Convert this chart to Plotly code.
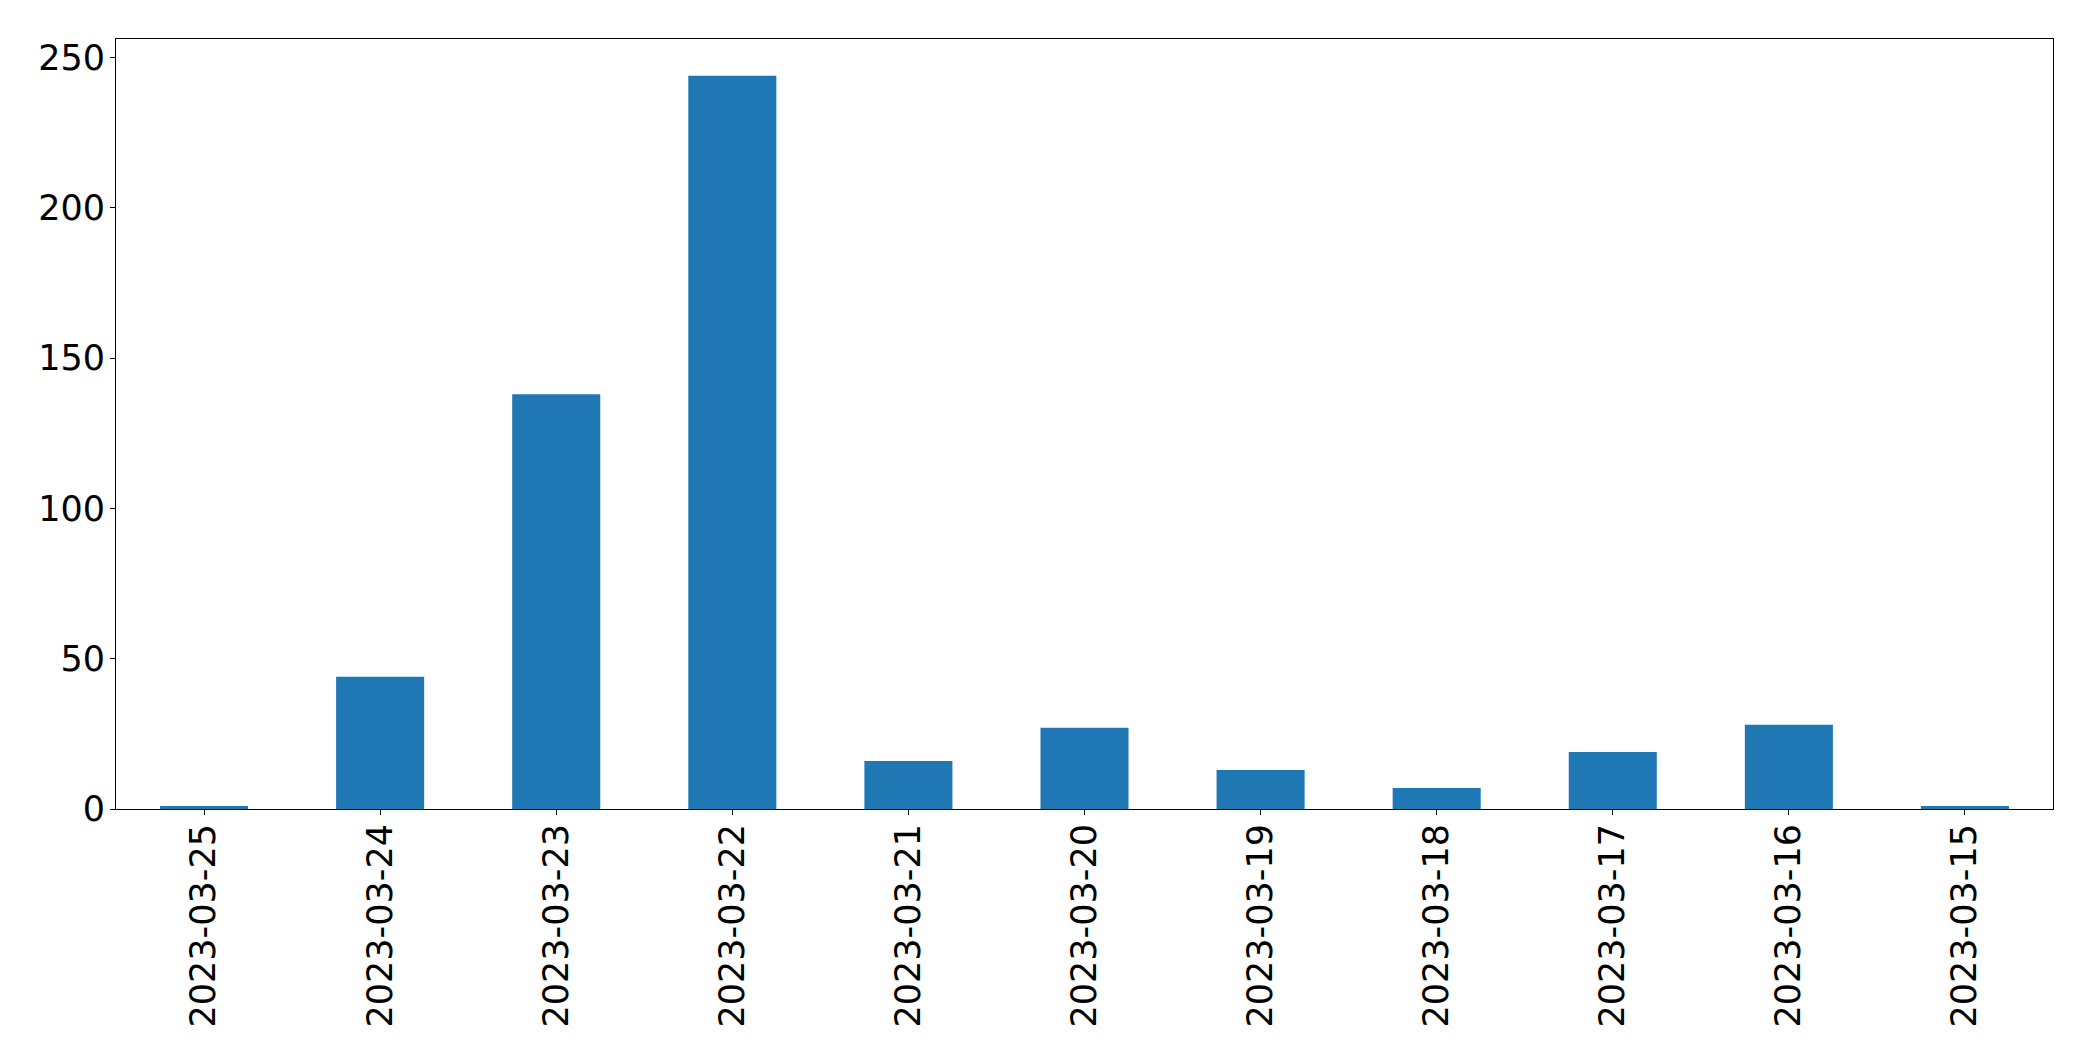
import plotly.graph_objects as go

dates = ["2023-03-25", "2023-03-24", "2023-03-23", "2023-03-22", "2023-03-21",
         "2023-03-20", "2023-03-19", "2023-03-18", "2023-03-17", "2023-03-16",
         "2023-03-15"]
counts = [1, 44, 138, 244, 16, 27, 13, 7, 19, 28, 1]
y_ticks = [0, 50, 100, 150, 200, 250]

fig = go.Figure(go.Bar(x=dates, y=counts, marker=dict(color="#1f77b4", line=dict(width=0))))

fig.update_layout(
    width=2093, height=1061,
    margin=dict(l=108, r=48, t=31, b=260),
    plot_bgcolor="white", paper_bgcolor="white",
    bargap=0.5,
    showlegend=False,
    font=dict(family="DejaVu Sans", size=35, color="black"),
)
fig.update_xaxes(
    type="category", range=[-0.5, len(dates) - 0.5],
    showline=True, mirror=True, linecolor="black", linewidth=1.1,
    ticks="outside", ticklen=5, tickwidth=1.1, tickcolor="black",
    tickangle=-90, showgrid=False, zeroline=False, ticklabelstandoff=-5,
    tickfont=dict(family="DejaVu Sans", size=35, color="black"),
)
fig.update_yaxes(
    range=[0, max(counts) * 1.05], tickvals=y_ticks,
    showline=True, mirror=True, linecolor="black", linewidth=1.1,
    ticks="outside", ticklen=5, tickwidth=1.1, tickcolor="black",
    showgrid=False, zeroline=False, ticklabelstandoff=-2,
    tickfont=dict(family="DejaVu Sans", size=35, color="black"),
)

fig.write_html("out.html")
